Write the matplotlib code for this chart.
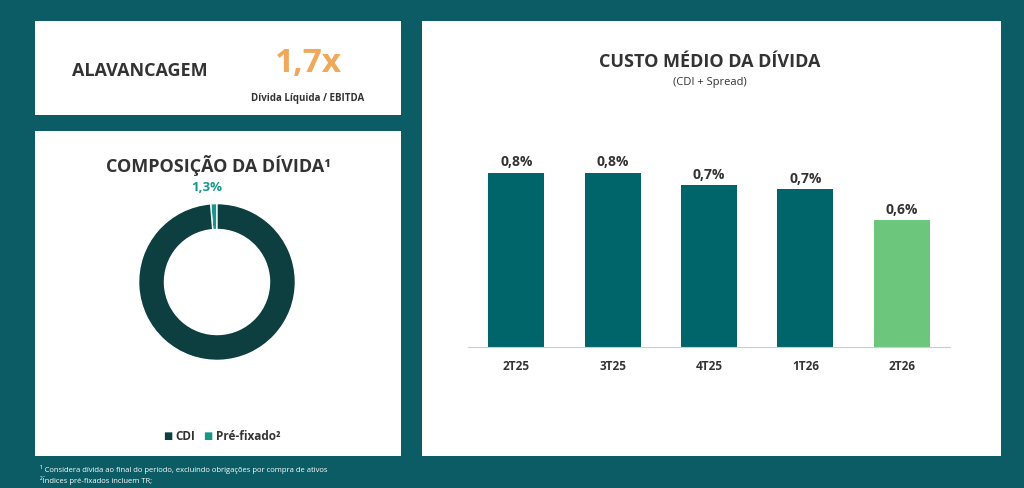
import matplotlib.pyplot as plt
from matplotlib.patches import Rectangle

quarters = ["2T25", "3T25", "4T25", "1T26", "2T26"]
custo = [0.84, 0.84, 0.78, 0.76, 0.61]
custo_labels = ["0,8%", "0,8%", "0,7%", "0,7%", "0,6%"]
comp_names = ["Pré-fixado²", "CDI"]
comp_values = [1.3, 98.7]
comp_labels = ["1,3%", "98,7%"]

BG = "#0b5c64"
DARK = "#0d3f41"
TEAL = "#00656b"
GREEN = "#6cc77c"
PRE = "#17968a"
W, H = 1024, 489

plt.rcParams["font.family"] = ["Open Sans", "DejaVu Sans"]
fig = plt.figure(figsize=(10.24, 4.89), dpi=100)
fig.patch.set_facecolor(BG)


def px(x0, y0, x1, y1):
    return [x0 / W, 1 - y1 / H, (x1 - x0) / W, (y1 - y0) / H]


def panel(x0, y0, x1, y1):
    r = px(x0, y0, x1, y1)
    fig.patches.append(Rectangle((r[0], r[1]), r[2], r[3], transform=fig.transFigure,
                                 facecolor="white", edgecolor="none", zorder=-10))


panel(35, 22, 401, 116)
panel(35, 132, 401, 457)
panel(422, 22, 1001, 457)

# top-left box
fig.text(72 / W, 1 - 71 / H, "ALAVANCAGEM", fontsize=13, fontweight="bold", color="#333333", va="center")
fig.text(308 / W, 1 - 64 / H, "1,7x", fontsize=24, fontweight="bold", color="#f0a85a", ha="center", va="center")
fig.text(308 / W, 1 - 98 / H, "Dívida Líquida / EBITDA", fontsize=7, fontweight="bold", color="#333333", ha="center", va="center")

# donut
fig.text(218 / W, 1 - 166 / H, "COMPOSIÇÃO DA DÍVIDA¹", fontsize=13, fontweight="bold", color="#333333", ha="center", va="center")
ax1 = fig.add_axes(px(119, 185, 315, 381))
ax1.patch.set_alpha(0)
ax1.pie(comp_values, colors=[PRE, DARK], startangle=90, counterclock=True,
        wedgeprops=dict(width=0.33, edgecolor="white", linewidth=1))
ax1.set_aspect("equal")
fig.text(207 / W, 1 - 188 / H, comp_labels[0], fontsize=9.5, fontweight="bold", color=PRE, ha="center", va="center")
fig.text(220 / W, 1 - 379 / H, comp_labels[1], fontsize=10, fontweight="bold", color="white", ha="center", va="center")
fig.text(168 / W, 1 - 437 / H, "■", fontsize=7, color=DARK, ha="center", va="center")
fig.text(175 / W, 1 - 437 / H, comp_names[1], fontsize=8.5, fontweight="bold", color="#333333", va="center")
fig.text(208 / W, 1 - 437 / H, "■", fontsize=7, color=PRE, ha="center", va="center")
fig.text(216 / W, 1 - 437 / H, comp_names[0], fontsize=8.5, fontweight="bold", color="#333333", va="center")

# bars
fig.text(710 / W, 1 - 62 / H, "CUSTO MÉDIO DA DÍVIDA", fontsize=13, fontweight="bold", color="#333333", ha="center", va="center")
fig.text(710 / W, 1 - 83 / H, "(CDI + Spread)", fontsize=8, color="#333333", ha="center", va="center")
ax2 = fig.add_axes(px(468, 130, 950, 348))
ax2.patch.set_alpha(0)
colors = [TEAL] * 4 + [GREEN]
bars = ax2.bar(quarters, custo, width=0.58, color=colors)
for b, lab in zip(bars, custo_labels):
    ax2.text(b.get_x() + b.get_width() / 2, b.get_height() + 0.02, lab, ha="center", va="bottom",
             fontsize=10, fontweight="bold", color="#333333")
ax2.set_ylim(0, 1.05)
ax2.set_xlim(-0.5, 4.5)
ax2.set_yticks([])
for s in ["top", "right", "left"]:
    ax2.spines[s].set_visible(False)
ax2.spines["bottom"].set_color("#cccccc")
ax2.tick_params(axis="x", length=0, pad=9, labelsize=8.5, labelcolor="#333333")
for t in ax2.get_xticklabels():
    t.set_fontweight("bold")

fig.text(40 / W, 1 - 470 / H, "¹ Considera dívida ao final do período, excluindo obrigações por compra de ativos",
         fontsize=5.5, color="white", va="center")
fig.text(40 / W, 1 - 481 / H, "²Índices pré-fixados incluem TR;", fontsize=5.5, color="white", va="center")

fig.savefig("out.png", dpi=100, facecolor=BG)
